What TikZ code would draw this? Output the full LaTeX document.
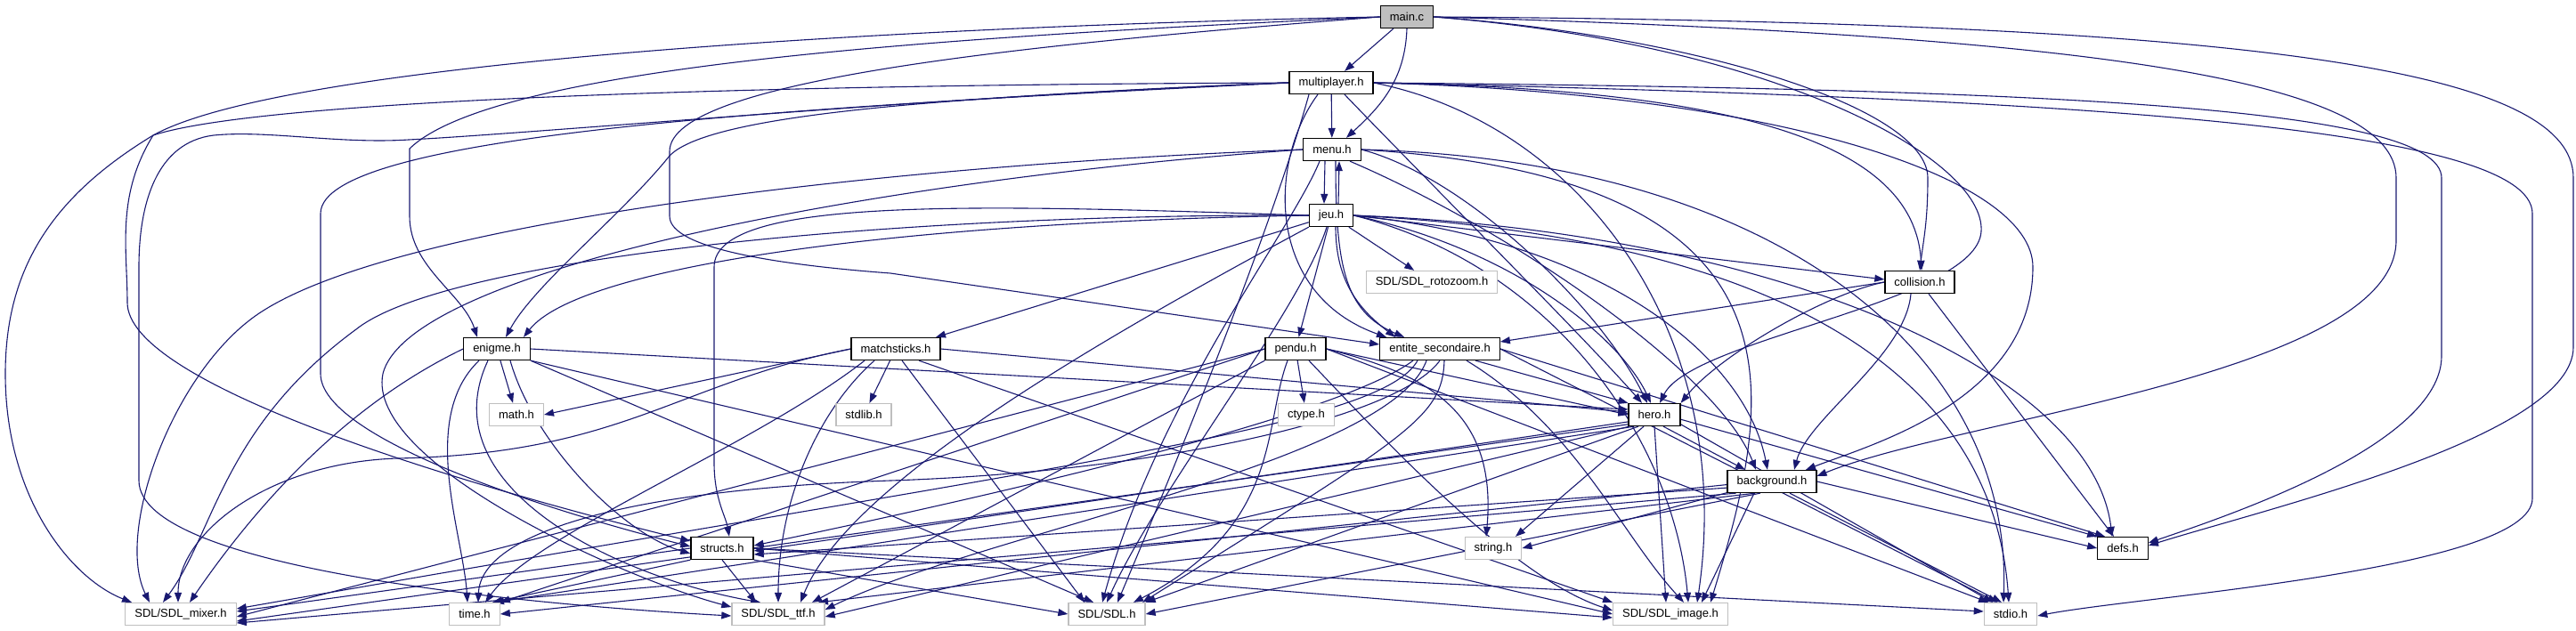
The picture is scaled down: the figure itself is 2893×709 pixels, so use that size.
\documentclass[tikz,border=0pt]{standalone}
\usepackage{fontspec}
\setmainfont{Liberation Sans}
\usetikzlibrary{arrows.meta}
\definecolor{navy}{HTML}{191970}
\definecolor{lgray}{HTML}{BFBFBF}
\pgfdeclarelayer{edges}
\pgfsetlayers{edges,main}
\begin{document}
\begin{tikzpicture}[x=1pt,y=-1pt,
  box/.style={rectangle, line width=1.3pt, fill=white, minimum height=25pt, inner xsep=10.5pt, inner ysep=0pt, font=\fontsize{13}{15}\selectfont},
  doc/.style={box, draw=black},
  ext/.style={box, draw=lgray},
  e/.style={draw=navy, line width=1.1pt, -{Triangle[length=11pt,width=8pt]}}]
\useasboundingbox (0,0) rectangle (2893,709);
% nodes
\node[doc, fill=lgray] (main) at (1580,19) {main.c};
\node[doc] (mult) at (1495,93) {multiplayer.h};
\node[doc] (menu) at (1496,168) {menu.h};
\node[doc] (jeu) at (1495,242) {jeu.h};
\node[ext] (roto) at (1608,317) {SDL/SDL\_rotozoom.h};
\node[doc] (coll) at (2156,317) {collision.h};
\node[doc] (enig) at (558,392) {enigme.h};
\node[doc] (match) at (1006,392) {matchsticks.h};
\node[doc] (pendu) at (1455,392) {pendu.h};
\node[doc] (ent) at (1617,392) {entite\_secondaire.h};
\node[ext] (math) at (580,466) {math.h};
\node[ext] (stdlib) at (970,466) {stdlib.h};
\node[ext] (ctype) at (1467,466) {ctype.h};
\node[doc] (hero) at (1858,466) {hero.h};
\node[doc] (bg) at (1990,541) {background.h};
\node[doc] (structs) at (811,616) {structs.h};
\node[ext] (string) at (1677,616) {string.h};
\node[doc] (defs) at (2384,616) {defs.h};
\node[ext] (mixer) at (203,690) {SDL/SDL\_mixer.h};
\node[ext] (time) at (533,690) {time.h};
\node[ext] (ttf) at (874,690) {SDL/SDL\_ttf.h};
\node[ext] (sdl) at (1243,690) {SDL/SDL.h};
\node[ext] (image) at (1876,690) {SDL/SDL\_image.h};
\node[ext] (stdio) at (2258,690) {stdio.h};
\begin{pgfonlayer}{edges}
% main.c
\draw[e] (main) -- (mult);
\draw[e] (main.south) .. controls (1578,90) and (1550,120) .. ([xshift=16pt]menu.north);
\draw[e] (main.west) .. controls (1100,40) and (560,70) .. (460,167) -- (460,243) .. controls (460,300) and (520,330) .. ([xshift=-22pt]enig.north);
\draw[e] (main.west) .. controls (1150,50) and (752,90) .. (752,170) -- (752,243) .. controls (752,280) and (880,298) .. (1000,307) -- ([yshift=5pt]ent.west);
\draw[e] (main.west) .. controls (1000,30) and (320,70) .. (172,152) .. controls (130,220) and (143,280) .. (143,340) .. controls (143,430) and (500,540) .. ([yshift=8pt]structs.west);
\draw[e] (main.east) .. controls (1900,40) and (2165,120) .. (2165,200) .. controls (2165,250) and (2160,270) .. (coll.north);
\draw[e] (main.east) .. controls (2000,50) and (2230,180) .. (2225,260) .. controls (2220,340) and (1900,380) .. ([xshift=6pt]hero.north);
\draw[e] (main.east) .. controls (2350,40) and (2691,90) .. (2691,200) -- (2691,270) .. controls (2691,420) and (2200,470) .. ([yshift=6pt]bg.east);
\draw[e] (main.east) .. controls (2550,25) and (2890,80) .. (2890,200) -- (2890,390) .. controls (2890,490) and (2550,570) .. ([yshift=3pt]defs.east);
% multiplayer.h
\draw[e] (mult) -- (menu);
\draw[e] (mult.west) .. controls (900,95) and (300,110) .. (172,152) .. controls (60,220) and (6,300) .. (6,420) .. controls (6,560) and (80,650) .. ([xshift=-55pt]mixer.north);
\draw[e] (mult.west) .. controls (1100,105) and (600,150) .. (459,157) .. controls (380,162) and (300,146) .. (240,152) .. controls (175,160) and (156,230) .. (156,300) -- (156,540) .. controls (156,640) and (600,680) .. ([yshift=-2pt]ttf.west);
\draw[e] (mult.west) .. controls (1100,108) and (800,125) .. (752,175) .. controls (700,240) and (600,320) .. ([xshift=10pt]enig.north);
\draw[e] (mult.west) .. controls (900,120) and (360,150) .. (360,240) -- (360,420) .. controls (360,490) and (600,570) .. ([yshift=2pt]structs.west);
\draw[e] ([xshift=-15pt]mult.south) .. controls (1425,180) and (1420,330) .. ([xshift=-60pt]ent.north);
\draw[e] ([xshift=15pt]mult.south) .. controls (1600,200) and (1780,380) .. ([xshift=-14pt]hero.north);
\draw[e] (mult.east) .. controls (1950,100) and (2150,160) .. ([xshift=2pt]coll.north);
\draw[e] (mult.east) .. controls (2000,105) and (2283,200) .. (2283,300) .. controls (2283,450) and (2100,500) .. ([xshift=38pt]bg.north);
\draw[e] (mult.east) .. controls (2300,100) and (2742,120) .. (2742,200) -- (2742,400) .. controls (2742,500) and (2500,580) .. ([yshift=6pt]defs.east);
\draw[e] (mult.east) .. controls (2300,110) and (2844,140) .. (2844,240) -- (2844,560) .. controls (2844,640) and (2400,670) .. ([yshift=-2pt]stdio.east);
\draw[e] ([xshift=-25pt]mult.south) .. controls (1430,250) and (1330,500) .. ([xshift=12pt]sdl.north);
\draw[e] (mult.east) .. controls (1780,140) and (1950,380) .. ([xshift=30pt]image.north);
% menu.h
\draw[e] ([xshift=-8pt]menu.south) -- ([xshift=-8pt]jeu.north);
\draw[e] ([xshift=8pt]jeu.north) -- ([xshift=8pt]menu.south);
\draw[e] (menu.west) .. controls (1000,185) and (420,250) .. (280,360) .. controls (190,430) and (130,600) .. ([xshift=-35pt]mixer.north);
\draw[e] (menu.west) .. controls (1000,200) and (460,300) .. (430,420) .. controls (410,520) and (700,650) .. ([yshift=8pt]ttf.west);
\draw[e] ([xshift=-14pt]menu.south) .. controls (1450,260) and (1300,450) .. ([xshift=-5pt]sdl.north);
\draw[e] ([xshift=4pt]menu.south) .. controls (1500,300) and (1510,350) .. ([xshift=-40pt]ent.north);
\draw[e] (menu.east) .. controls (1650,200) and (1800,350) .. ([xshift=-8pt]hero.north);
\draw[e] ([xshift=20pt]menu.south) .. controls (1700,260) and (1930,420) .. ([xshift=-18pt]bg.north);
\draw[e] (menu.east) .. controls (2050,200) and (1990,450) .. ([xshift=45pt]image.north);
\draw[e] (menu.east) .. controls (2000,180) and (2260,400) .. ([xshift=-8pt]stdio.north);
% jeu.h
\draw[e] (jeu) -- (roto);
\draw[e] (jeu.west) .. controls (1000,250) and (650,300) .. ([xshift=30pt]enig.north);
\draw[e] (jeu) -- ([xshift=45pt]match.north);
\draw[e] (jeu) -- (pendu);
\draw[e] ([xshift=5pt]jeu.south) .. controls (1500,320) and (1530,350) .. ([xshift=-50pt]ent.north);
\draw[e] (jeu.east) -- ([yshift=3pt]coll.west);
\draw[e] (jeu.east) .. controls (1700,280) and (1820,380) .. ([xshift=-4pt]hero.north);
\draw[e] (jeu.east) .. controls (1800,270) and (1960,400) .. ([xshift=-5pt]bg.north);
\draw[e] (jeu.east) .. controls (2000,260) and (2350,420) .. ([xshift=-12pt]defs.north);
\draw[e] (jeu.east) .. controls (2050,270) and (2240,450) .. ([xshift=-2pt]stdio.north);
\draw[e] (jeu.east) .. controls (1750,300) and (1880,500) .. ([xshift=20pt]image.north);
\draw[e] ([xshift=-5pt]jeu.south) .. controls (1460,350) and (1300,550) .. (sdl.north);
\draw[e] (jeu.west) .. controls (1100,230) and (802,220) .. (802,300) -- (802,520) .. controls (802,560) and (815,580) .. ([xshift=8pt]structs.north);
\draw[e] (jeu.west) .. controls (1000,240) and (500,290) .. (400,370) .. controls (250,480) and (240,600) .. ([xshift=-20pt]mixer.north);
\draw[e] (jeu.south west) .. controls (1200,400) and (950,550) .. ([xshift=25pt]ttf.north);
% collision.h
\draw[e] (coll.west) -- ([yshift=8pt]ent.east);
\draw[e] (coll.west) .. controls (2050,330) and (1930,400) .. (hero.north east);
\draw[e] ([xshift=-10pt]coll.south) .. controls (2140,400) and (2030,470) .. ([xshift=25pt]bg.north);
\draw[e] ([xshift=10pt]coll.south) -- ([xshift=-10pt]defs.north);
% enigme.h
\draw[e] (enig) -- (math);
\draw[e] (enig.east) -- ([yshift=6pt]hero.west);
\draw[e] (enig.west) .. controls (400,450) and (300,550) .. ([xshift=10pt]mixer.north);
\draw[e] ([xshift=-20pt]enig.south) .. controls (470,470) and (520,600) .. ([xshift=-8pt]time.north);
\draw[e] ([xshift=-10pt]enig.south) .. controls (480,550) and (700,650) .. ([xshift=-20pt]ttf.north);
\draw[e] (enig.south east) -- ([xshift=-15pt]sdl.north);
\draw[e] ([xshift=15pt]enig.south) .. controls (600,500) and (700,600) .. ([yshift=-6pt]structs.west);
\draw[e] (enig.south east) -- (image.west);
% matchsticks.h
\draw[e] (match.west) -- (math.east);
\draw[e] (match) -- (stdlib);
\draw[e] (match.east) -- ([yshift=3pt]hero.west);
\draw[e] (match.west) .. controls (760,430) and (700,510) .. (446,515) .. controls (300,520) and (200,600) .. ([xshift=-3pt]mixer.north);
\draw[e] ([xshift=-35pt]match.south) .. controls (850,500) and (600,600) .. ([xshift=12pt]time.north);
\draw[e] ([xshift=-24pt]match.south) .. controls (920,460) and (874,560) .. (ttf.north);
\draw[e] ([xshift=7pt]match.south) -- ([xshift=-25pt]sdl.north);
\draw[e] ([xshift=26pt]match.south) -- (image.north west);
% pendu.h
\draw[e] (pendu) -- (ctype);
\draw[e] (pendu.east) -- (hero.west);
\draw[e] (pendu.east) .. controls (1600,420) and (1682,460) .. ([xshift=-8pt]string.north);
\draw[e] (pendu.west) -- ([yshift=-3pt]mixer.east);
\draw[e] (pendu.south west) -- ([xshift=38pt]ttf.north);
\draw[e] (pendu.west) -- (time.north east);
\draw[e] ([xshift=-9pt]pendu.south) .. controls (1418,480) and (1440,590) .. ([xshift=30pt]sdl.north);
\draw[e] ([xshift=15pt]pendu.south) .. controls (1560,500) and (1700,650) .. ([yshift=4pt]image.west);
\draw[e] (pendu.east) -- ([xshift=-25pt]stdio.north);
% entite_secondaire.h
\draw[e] ([xshift=40pt]ent.south) -- (hero.north west);
\draw[e] ([xshift=-25pt]ent.south) .. controls (1550,480) and (1200,520) .. ([yshift=6pt]mixer.east);
\draw[e] (ent.south) .. controls (1570,470) and (1300,530) .. (1000,540) .. controls (700,550) and (540,600) .. ([xshift=4pt]time.north);
\draw[e] ([xshift=-15pt]ent.south) .. controls (1560,520) and (1100,600) .. ([yshift=5pt]ttf.east);
\draw[e] ([xshift=5pt]ent.south) .. controls (1620,470) and (1580,490) .. ([xshift=40pt]sdl.north);
\draw[e] ([xshift=30pt]ent.south) .. controls (1770,480) and (1820,600) .. ([xshift=15pt]image.north);
\draw[e] (ent.east) -- ([xshift=-15pt]stdio.north);
\draw[e] (ent.east) -- ([xshift=-20pt]defs.north);
\draw[e] ([xshift=-30pt]ent.south) .. controls (1500,470) and (1100,560) .. ([yshift=3pt]structs.east);
% hero.h
\draw[e] ([xshift=10pt]hero.south) -- ([xshift=-30pt]bg.north);
\draw[e] (hero.195) -- ([yshift=-3pt]structs.east);
\draw[e] ([xshift=-12pt]hero.south) -- ([xshift=25pt]string.north);
\draw[e] ([xshift=-18pt]hero.south) -- (sdl.north east);
\draw[e] (hero.south) -- ([xshift=-5pt]image.north);
\draw[e] (hero.340) -- ([xshift=-20pt]stdio.north);
\draw[e] (hero.350) -- (defs.north west);
\draw[e] (hero.200) -- ([yshift=-8pt]mixer.east);
\draw[e] (hero.205) -- ([yshift=-3pt]ttf.east);
\draw[e] (hero.210) -- ([xshift=22pt]time.north);
% background.h
\draw[e] (bg.188) -- ([yshift=-7pt]structs.east);
\draw[e] (bg.194) -- (string.east);
\draw[e] (bg.east) -- (defs.west);
\draw[e] (bg.225) -- (sdl.east);
\draw[e] ([xshift=-20pt]bg.south) -- ([xshift=35pt]image.north);
\draw[e] ([xshift=20pt]bg.south) -- ([xshift=-10pt]stdio.north);
\draw[e] (bg.198) -- ([yshift=-10pt]mixer.east);
\draw[e] (bg.215) -- ([xshift=45pt]ttf.north);
\draw[e] (bg.184) -- (time.east);
% structs.h
\draw[e] (structs.west) -- ([yshift=3pt]mixer.east);
\draw[e] (structs.south west) -- ([xshift=20pt]time.north);
\draw[e] (structs.south) -- ([xshift=-25pt]ttf.north);
\draw[e] (structs.south east) -- (sdl.west);
\draw[e] (structs.east) -- ([yshift=-4pt]image.west);
\draw[e] (structs.east) -- ([yshift=3pt]stdio.west);
\end{pgfonlayer}
\end{tikzpicture}
\end{document}
